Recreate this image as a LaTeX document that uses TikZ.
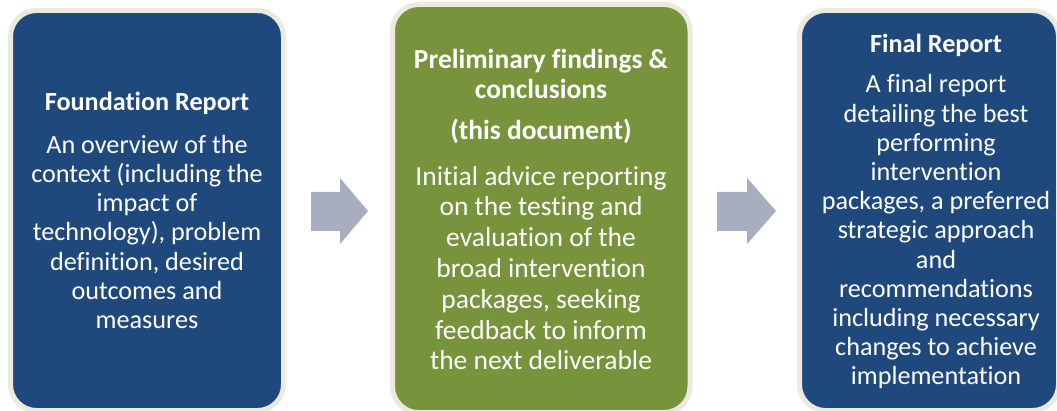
\documentclass[tikz,border=0pt]{standalone}
\usepackage{fontspec}
\setmainfont{Carlito}[RawFeature={-liga;-clig;-dlig}]
\definecolor{boxblue}{HTML}{1F497D}
\definecolor{boxgreen}{HTML}{77933C}
\definecolor{boxrim}{HTML}{ECE9DE}
\definecolor{arrowgrey}{HTML}{A7AEBF}
\begin{document}
\begin{tikzpicture}[x=1pt,y=-1pt,
  panel/.style={draw=boxrim,line width=5pt,rounded corners=26pt},
  txt/.style={text=white,align=center,inner sep=0pt},
  bodyA/.style={txt,font=\fontsize{26.2}{29.2}\selectfont},
  titleA/.style={txt,font=\fontsize{26.2}{29.2}\selectfont\bfseries},
  bodyB/.style={txt,font=\fontsize{27.5}{30.8}\selectfont},
  titleB/.style={txt,font=\fontsize{27.5}{30.5}\selectfont\bfseries},
  blockarrow/.style={fill=arrowgrey}]
\useasboundingbox (0,0) rectangle (1057,411);
% panels
\path[panel,fill=boxblue] (10.5,10.5) rectangle (283.5,410.5);
\path[panel,fill=boxgreen] (392.5,4.5) rectangle (690,412.5);
\path[panel,fill=boxblue] (799.5,10.5) rectangle (1058.5,410.5);
% block arrows
\fill[blockarrow] (311,192) -- (340,192) -- (340,178) -- (368,211) -- (340,244) -- (340,231) -- (311,231) -- cycle;
\fill[blockarrow] (717,192) -- (747,192) -- (747,178) -- (776,211) -- (747,244) -- (747,231) -- (717,231) -- cycle;
% box 1
\node[titleA] (t1) at (147,103) {Foundation Report};
\node[bodyA] (b1) at (147,232) {An overview of the\\context (including the\\impact of\\technology), problem\\definition, desired\\outcomes and\\measures};
% box 2
\node[titleB] (t2) at (541,74) {Preliminary findings \&\\conclusions};
\node[titleB] (t2b) at (541,131) {(this document)};
\node[bodyB] (b2) at (541,268) {Initial advice reporting\\on the testing and\\evaluation of the\\broad intervention\\packages, seeking\\feedback to inform\\the next deliverable};
% box 3
\node[titleA] (t3) at (936,45) {Final Report};
\node[bodyA] (b3) at (936,232) {A final report\\detailing the best\\performing\\intervention\\packages, a preferred\\strategic approach\\and\\recommendations\\including necessary\\changes to achieve\\implementation};
\end{tikzpicture}
\end{document}
